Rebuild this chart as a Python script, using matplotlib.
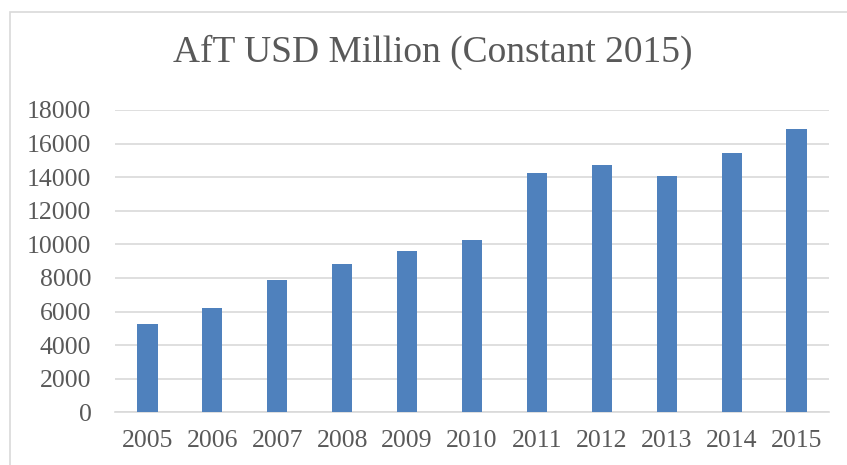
import matplotlib
matplotlib.use("Agg")
import matplotlib.pyplot as plt
from matplotlib.patches import Rectangle

years = ["2005", "2006", "2007", "2008", "2009", "2010", "2011", "2012", "2013", "2014", "2015"]
values = [5260, 6210, 7880, 8810, 9580, 10280, 14230, 14700, 14050, 15420, 16850]
yticks = [0, 2000, 4000, 6000, 8000, 10000, 12000, 14000, 16000, 18000]

W, H = 847, 465
fig = plt.figure(figsize=(W / 100, H / 100), dpi=100)
fig.patch.set_facecolor("white")

# chart border (light gray)
fig.add_artist(Rectangle((10 / W, -0.1), 2.0, (H - 12) / H + 0.1, transform=fig.transFigure,
                         fill=False, edgecolor="#D9D9D9", linewidth=1.2))

ax = fig.add_axes([115 / W, 1 - 412.3 / H, (829 - 115) / W, (412.3 - 110) / H])
x = list(range(len(years)))
ax.bar(x, values, width=0.31, color="#4F81BD", zorder=3)
ax.set_xlim(-0.5, len(years) - 0.5)
ax.set_ylim(0, 18000)
ax.set_yticks(yticks)
ax.set_yticklabels([str(v) for v in yticks])
ax.set_xticks(x)
ax.set_xticklabels(years)
ax.yaxis.grid(True, color="#D9D9D9", linewidth=1.2, zorder=0)
for s in ["top", "right", "left"]:
    ax.spines[s].set_visible(False)
ax.spines["bottom"].set_color("#D9D9D9")
ax.spines["bottom"].set_linewidth(1.2)
ax.tick_params(axis="both", length=0, labelsize=18.5, labelcolor="#595959")
ax.tick_params(axis="y", pad=17)
ax.tick_params(axis="x", pad=13)
for lbl in ax.get_xticklabels() + ax.get_yticklabels():
    lbl.set_fontfamily("Liberation Serif")

fig.text(433 / W, 1 - 52 / H, "AfT USD Million (Constant 2015)", ha="center", va="center",
         fontsize=27, color="#595959", family="Liberation Serif")

fig.savefig("out.png", dpi=100)
